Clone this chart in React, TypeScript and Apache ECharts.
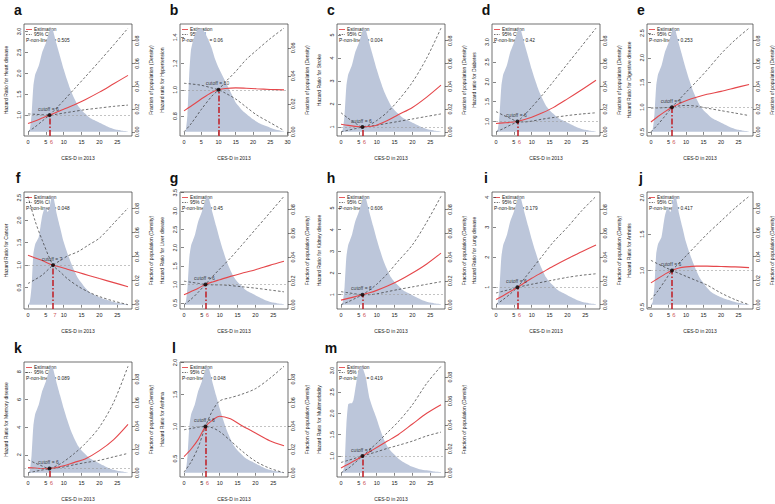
import React, { useEffect, useRef } from "react";
import * as echarts from "echarts";

const FONT = "'Liberation Sans', Arial, Helvetica, sans-serif";
const RED = "#e5474b";
const DARKRED = "#c0262d";
const DENS_COLOR = "#bcc6da";

// ---------- layout (positions only) ----------
const COL_LEFT = [24, 180, 337, 492, 647];
const ROW_TOP = [24, 192, 362];
const ROW_HEIGHT = [112, 117, 115];
const BOX_WIDTH = 108;

// ---------- data ----------
const X_TICKS = [0, 5, 10, 15, 20, 25];
const X_TICKS_B = [0, 5, 10, 15, 20, 25, 30];
const DENS_TICKS = [0, 0.02, 0.04, 0.06, 0.08];

const DENS_X = [0, 0.5, 1, 1.5, 2, 2.5, 3, 3.5, 4, 4.5, 5, 5.5, 6, 6.5, 7, 7.5, 8, 9, 10, 11, 12, 13, 14, 15, 16, 17, 18, 19, 20, 21, 22, 23, 24, 25, 26, 27, 28];
const DENS_MAIN = [0, 0.002, 0.015, 0.04, 0.05, 0.054, 0.058, 0.064, 0.07, 0.074, 0.078, 0.083, 0.088, 0.091, 0.089, 0.083, 0.077, 0.066, 0.055, 0.045, 0.036, 0.029, 0.023, 0.019, 0.016, 0.013, 0.011, 0.0095, 0.008, 0.0065, 0.005, 0.0035, 0.0025, 0.0018, 0.0012, 0.0007, 0.0003];
const DENS_DIP = [0, 0.002, 0.015, 0.042, 0.05, 0.053, 0.056, 0.065, 0.074, 0.079, 0.081, 0.077, 0.08, 0.088, 0.09, 0.084, 0.076, 0.064, 0.052, 0.043, 0.035, 0.028, 0.022, 0.018, 0.014, 0.011, 0.009, 0.0075, 0.0062, 0.005, 0.004, 0.003, 0.0022, 0.0015, 0.001, 0.0006, 0.0003];
const DENS_B_X = [0, 0.5, 1, 1.5, 2, 2.5, 3, 4, 5, 6, 7, 8, 9, 10, 11, 12, 13, 14, 15, 16, 17, 18, 19, 20, 22, 24, 26, 28, 29];
const DENS_B = [0, 0.001, 0.012, 0.04, 0.058, 0.064, 0.068, 0.073, 0.074, 0.071, 0.066, 0.06, 0.052, 0.046, 0.041, 0.036, 0.031, 0.026, 0.021, 0.018, 0.015, 0.013, 0.011, 0.009, 0.006, 0.004, 0.002, 0.0008, 0.0003];
const DENS_M_X = [0, 0.5, 1, 1.5, 2, 2.5, 3, 3.5, 4, 4.5, 5, 5.5, 6, 6.5, 7, 7.5, 8, 9, 10, 11, 12, 13, 14, 15, 16, 18, 20, 22, 24, 26, 28];
const DENS_M = [0, 0.001, 0.006, 0.04, 0.057, 0.058, 0.058, 0.061, 0.07, 0.079, 0.086, 0.089, 0.088, 0.084, 0.079, 0.07, 0.062, 0.053, 0.045, 0.036, 0.028, 0.022, 0.018, 0.015, 0.012, 0.008, 0.005, 0.003, 0.002, 0.001, 0.0005];

const X6 = [0, 2, 4, 6, 8, 10, 13, 16, 20, 24, 28];
const X_B = [0, 2, 5, 8, 10, 12, 15, 18, 21, 25, 29];
const X_F = [0, 2, 4, 7, 9, 11, 14, 17, 20, 24, 28];

const A_EST = [0.8, 0.86, 0.93, 1.0, 1.07, 1.14, 1.25, 1.37, 1.55, 1.75, 1.95];
const A_CI1 = [0.6, 0.72, 0.86, 1.0, 1.17, 1.35, 1.63, 1.91, 2.29, 2.68, 3.08];
const A_CI2 = [1.03, 1.02, 1.01, 1.0, 1.02, 1.05, 1.09, 1.13, 1.17, 1.21, 1.24];

const B_EST = [0.84, 0.875, 0.93, 0.98, 1.0, 1.01, 1.015, 1.012, 1.008, 1.003, 1.0];
const B_CI1 = [0.68, 0.74, 0.85, 0.95, 1.0, 1.06, 1.14, 1.23, 1.3, 1.39, 1.47];
const B_CI2 = [1.05, 1.045, 1.035, 1.015, 1.0, 0.975, 0.93, 0.87, 0.81, 0.75, 0.69];

const C_EST = [1.12, 1.07, 1.03, 1.0, 1.02, 1.08, 1.28, 1.53, 1.85, 2.3, 2.82];
const C_CI1 = [0.79, 0.86, 0.93, 1.0, 1.04, 1.08, 1.16, 1.24, 1.35, 1.46, 1.57];
const C_CI2 = [1.62, 1.38, 1.17, 1.0, 1.1, 1.28, 1.65, 2.15, 2.95, 4.0, 5.3];

const D_EST = [0.95, 0.965, 0.98, 1.0, 1.05, 1.11, 1.22, 1.35, 1.57, 1.8, 2.04];
const D_CI1 = [0.74, 0.82, 0.91, 1.0, 1.17, 1.36, 1.67, 2.0, 2.45, 2.9, 3.35];
const D_CI2 = [1.25, 1.16, 1.08, 1.0, 0.99, 1.01, 1.06, 1.1, 1.15, 1.19, 1.22];

const E_EST = [0.7, 0.81, 0.91, 1.0, 1.07, 1.13, 1.2, 1.26, 1.32, 1.39, 1.46];
const E_CI1 = [0.5, 0.65, 0.82, 1.0, 1.15, 1.3, 1.52, 1.75, 2.08, 2.36, 2.6];
const E_CI2 = [0.98, 0.985, 0.99, 1.0, 1.025, 1.035, 1.02, 0.98, 0.93, 0.88, 0.83];

const F_EST = [1.22, 1.16, 1.1, 1.0, 0.96, 0.91, 0.84, 0.77, 0.7, 0.61, 0.52];
const F_CI1 = [2.53, 1.98, 1.55, 1.0, 0.85, 0.7, 0.53, 0.4, 0.3, 0.2, 0.12];
const F_CI2 = [0.59, 0.68, 0.78, 1.0, 1.1, 1.2, 1.3, 1.45, 1.6, 1.93, 2.27];

const G_EST = [0.72, 0.81, 0.9, 1.0, 1.07, 1.13, 1.22, 1.3, 1.4, 1.52, 1.63];
const G_CI1 = [0.45, 0.6, 0.79, 1.0, 1.22, 1.42, 1.72, 2.05, 2.5, 2.95, 3.4];
const G_CI2 = [1.09, 1.06, 1.03, 1.0, 0.99, 0.99, 0.97, 0.94, 0.9, 0.85, 0.8];

const H_EST = [0.75, 0.83, 0.91, 1.0, 1.09, 1.2, 1.4, 1.63, 2.0, 2.42, 2.92];
const H_CI1 = [0.54, 0.67, 0.83, 1.0, 1.22, 1.48, 1.97, 2.55, 3.3, 4.35, 5.54];
const H_CI2 = [1.14, 1.09, 1.04, 1.0, 1.0, 1.04, 1.14, 1.24, 1.36, 1.48, 1.6];

const I_EST = [0.59, 0.72, 0.86, 1.0, 1.15, 1.3, 1.5, 1.7, 1.95, 2.18, 2.41];
const I_CI1 = [0.42, 0.59, 0.78, 1.0, 1.3, 1.6, 2.05, 2.5, 3.0, 3.55, 4.03];
const I_CI2 = [0.81, 0.87, 0.93, 1.0, 1.05, 1.1, 1.17, 1.24, 1.33, 1.4, 1.45];

const J_EST = [0.83, 0.89, 0.95, 1.0, 1.035, 1.05, 1.06, 1.06, 1.055, 1.05, 1.04];
const J_CI1 = [0.6, 0.72, 0.86, 1.0, 1.1, 1.2, 1.35, 1.5, 1.68, 1.86, 2.02];
const J_CI2 = [1.14, 1.09, 1.045, 1.0, 0.96, 0.92, 0.86, 0.8, 0.69, 0.6, 0.53];

const K_EST = [1.07, 1.04, 1.01, 1.0, 1.08, 1.2, 1.45, 1.7, 2.3, 3.1, 4.2];
const K_CI1 = [0.7, 0.8, 0.9, 1.0, 1.2, 1.5, 2.1, 2.8, 4.0, 5.8, 8.4];
const K_CI2 = [1.64, 1.4, 1.18, 1.0, 1.05, 1.12, 1.28, 1.43, 1.6, 1.85, 2.1];

const L_EST = [0.53, 0.65, 0.8, 1.0, 1.1, 1.16, 1.12, 1.02, 0.9, 0.78, 0.7];
const L_CI1 = [0.29, 0.45, 0.68, 1.0, 1.25, 1.4, 1.45, 1.5, 1.59, 1.75, 1.94];
const L_CI2 = [0.95, 0.97, 0.99, 1.0, 0.98, 0.92, 0.78, 0.63, 0.46, 0.35, 0.28];

const M_EST = [0.72, 0.81, 0.9, 1.0, 1.1, 1.2, 1.35, 1.5, 1.75, 2.0, 2.2];
const M_CI1 = [0.61, 0.71, 0.85, 1.0, 1.15, 1.3, 1.55, 1.8, 2.2, 2.7, 3.1];
const M_CI2 = [0.85, 0.9, 0.95, 1.0, 1.05, 1.1, 1.18, 1.25, 1.35, 1.47, 1.56];

const LETTERS = ["a", "b", "c", "d", "e", "f", "g", "h", "i", "j", "k", "l", "m"];
const Y_NAMES = [
  "Hazard Ratio for Heart disease",
  "Hazard ratio for Hypertension",
  "Hazard Ratio for Stroke",
  "Hazard ratio for Diabetes",
  "Hazard Ratio for Digestive disease",
  "Hazard Ratio for Cancer",
  "Hazard Ratio for Liver disease",
  "Hazard Ratio for Kidney disease",
  "Hazard Ratio for Lung disease",
  "Hazard Ratio for Arthritis",
  "Hazard Ratio for Memory disease",
  "Hazard Ratio for Asthma",
  "Hazard Ratio for Multimorbidity",
];
const P_VALUES = ["0.505", "0.06", "0.004", "0.42", "0.253", "0.048", "0.45", "0.606", "0.179", "0.417", "0.089", "0.048", "0.419"];
const CUTOFFS = [6, 10, 6, 6, 6, 7, 6, 6, 6, 6, 6, 6, 6];
const Y_TICKS = [
  [1, 1.5, 2, 2.5, 3],
  [0.8, 1.0, 1.2, 1.4],
  [1, 2, 3, 4, 5],
  [1, 1.5, 2, 2.5, 3],
  [0.5, 1, 1.5, 2, 2.5],
  [0.5, 1, 1.5, 2, 2.5],
  [0.5, 1, 1.5, 2, 2.5, 3, 3.5],
  [1, 2, 3, 4, 5],
  [1, 2, 3, 4],
  [0.5, 1, 1.5, 2],
  [2, 4, 6, 8],
  [0.5, 1, 1.5, 2],
  [1, 1.5, 2, 2.5, 3],
];
const Y_DIGITS = [1, 1, 0, 1, 1, 1, 1, 0, 0, 1, 0, 1, 1];

const PANEL_X = [X6, X_B, X6, X6, X6, X_F, X6, X6, X6, X6, X6, X6, X6];
const PANEL_EST = [A_EST, B_EST, C_EST, D_EST, E_EST, F_EST, G_EST, H_EST, I_EST, J_EST, K_EST, L_EST, M_EST];
const PANEL_CI1 = [A_CI1, B_CI1, C_CI1, D_CI1, E_CI1, F_CI1, G_CI1, H_CI1, I_CI1, J_CI1, K_CI1, L_CI1, M_CI1];
const PANEL_CI2 = [A_CI2, B_CI2, C_CI2, D_CI2, E_CI2, F_CI2, G_CI2, H_CI2, I_CI2, J_CI2, K_CI2, L_CI2, M_CI2];
const PANEL_DX = [DENS_X, DENS_B_X, DENS_X, DENS_X, DENS_X, DENS_X, DENS_X, DENS_X, DENS_X, DENS_X, DENS_X, DENS_X, DENS_M_X];
const PANEL_DY = [DENS_MAIN, DENS_B, DENS_MAIN, DENS_MAIN, DENS_MAIN, DENS_DIP, DENS_MAIN, DENS_MAIN, DENS_MAIN, DENS_DIP, DENS_MAIN, DENS_MAIN, DENS_M];
const PANEL_XTICKS = [X_TICKS, X_TICKS_B, X_TICKS, X_TICKS, X_TICKS, X_TICKS, X_TICKS, X_TICKS, X_TICKS, X_TICKS, X_TICKS, X_TICKS, X_TICKS];

const zip = (a: number[], b: number[]) => a.map((v, i) => [v, b[i]]);

function buildOption() {
  const grid: any[] = [];
  const xAxis: any[] = [];
  const yAxis: any[] = [];
  const series: any[] = [];
  const graphic: any[] = [];

  LETTERS.forEach((letter, i) => {
    const row = Math.floor(i / 5);
    const col = i % 5;
    const left = COL_LEFT[col];
    const top = ROW_TOP[row];
    const height = ROW_HEIGHT[row];
    const xs = PANEL_X[i];
    const est = PANEL_EST[i];
    const ci1 = PANEL_CI1[i];
    const ci2 = PANEL_CI2[i];
    const dx = PANEL_DX[i];
    const dy = PANEL_DY[i];
    const cut = CUTOFFS[i];

    const xMaxData = Math.max(...xs, ...dx);
    const xMin = -0.04 * xMaxData;
    const xMax = xMaxData * 1.04;
    const allY = [...est, ...ci1, ...ci2];
    const yLo = Math.min(...allY);
    const yHi = Math.max(...allY);
    const yR = yHi - yLo;
    const yMin = yLo - 0.04 * yR;
    const yMax = yHi + 0.04 * yR;
    const dHi = Math.max(...dy);
    const dMin = -0.04 * dHi;
    const dMax = dHi * 1.04;
    const yTicks = Y_TICKS[i].filter((v) => v >= yMin && v <= yMax);
    const dTicks = DENS_TICKS.filter((v) => v >= dMin && v <= dMax + 1e-9);
    const dig = Y_DIGITS[i];

    grid.push({ left, top, width: BOX_WIDTH, height, show: true, borderColor: "#333", borderWidth: 0.7, backgroundColor: "transparent" });

    const tickLine = { color: "#333", width: 0.6 };
    const labelBase = { fontSize: 5.5, color: "#222", fontFamily: FONT };
    const nameBase = { fontSize: 5, color: "#222", fontFamily: FONT };

    xAxis.push({
      type: "value",
      gridIndex: i,
      min: xMin,
      max: xMax,
      axisLine: { show: false },
      splitLine: { show: false },
      axisTick: { show: true, length: 3, customValues: PANEL_XTICKS[i], lineStyle: tickLine },
      axisLabel: { ...labelBase, customValues: PANEL_XTICKS[i], margin: 3 },
      name: "CES-D in 2013",
      nameLocation: "middle",
      nameGap: 19,
      nameTextStyle: nameBase,
    });
    yAxis.push({
      type: "value",
      gridIndex: i,
      position: "left",
      min: yMin,
      max: yMax,
      axisLine: { show: false },
      splitLine: { show: false },
      axisTick: { show: true, length: 3, customValues: yTicks, lineStyle: tickLine },
      axisLabel: { ...labelBase, customValues: yTicks, rotate: 90, margin: 2, formatter: (v: number) => v.toFixed(dig) },
      name: Y_NAMES[i],
      nameLocation: "middle",
      nameRotate: 90,
      nameGap: 16,
      nameTextStyle: nameBase,
    });
    yAxis.push({
      type: "value",
      gridIndex: i,
      position: "right",
      min: dMin,
      max: dMax,
      axisLine: { show: false },
      splitLine: { show: false },
      axisTick: { show: true, length: 3, customValues: dTicks, lineStyle: tickLine },
      axisLabel: { ...labelBase, customValues: dTicks, rotate: 90, margin: 2, formatter: (v: number) => v.toFixed(2) },
      name: "Fraction of population (Density)",
      nameLocation: "middle",
      nameRotate: 90,
      nameGap: 16,
      nameTextStyle: nameBase,
    });

    const yIdx = 2 * i;
    const dIdx = 2 * i + 1;

    series.push({
      type: "line",
      xAxisIndex: i,
      yAxisIndex: dIdx,
      data: zip(dx, dy),
      symbol: "none",
      smooth: 0.2,
      lineStyle: { width: 0 },
      areaStyle: { color: DENS_COLOR, opacity: 1 },
      silent: true,
      z: 1,
    });
    series.push({
      type: "line",
      xAxisIndex: i,
      yAxisIndex: yIdx,
      data: zip(xs, ci1),
      symbol: "none",
      smooth: 0.3,
      lineStyle: { color: "#333", width: 0.7, type: [2.5, 2] },
      silent: true,
      z: 2,
      markLine: {
        silent: true,
        symbol: ["none", "none"],
        label: { show: false },
        lineStyle: { color: "#9a9a9a", type: [2, 2], width: 0.6 },
        data: [{ yAxis: 1 }],
      },
    });
    series.push({
      type: "line",
      xAxisIndex: i,
      yAxisIndex: yIdx,
      data: zip(xs, ci2),
      symbol: "none",
      smooth: 0.3,
      lineStyle: { color: "#333", width: 0.7, type: [2.5, 2] },
      silent: true,
      z: 2,
    });
    series.push({
      type: "line",
      xAxisIndex: i,
      yAxisIndex: yIdx,
      data: zip(xs, est),
      symbol: "none",
      smooth: 0.3,
      lineStyle: { color: RED, width: 1.1 },
      silent: true,
      z: 4,
      markLine: {
        silent: true,
        symbol: ["none", "none"],
        label: { show: false },
        data: [
          [
            { coord: [cut, yMin], lineStyle: { color: DARKRED, width: 1.6, type: [6, 2, 1.5, 2] } },
            { coord: [cut, 1] },
          ],
        ],
      },
    });
    series.push({
      type: "scatter",
      xAxisIndex: i,
      yAxisIndex: yIdx,
      data: [[cut, 1]],
      symbolSize: 4,
      itemStyle: { color: "#000" },
      silent: true,
      z: 6,
      label: { show: true, formatter: `cutoff = ${cut}`, position: "top", distance: 2, offset: [-1, 0], fontSize: 5, color: "#111", fontFamily: FONT },
    });
    if (cut !== 10) {
      series.push({
        type: "scatter",
        xAxisIndex: i,
        yAxisIndex: yIdx,
        data: [[cut, yMin]],
        symbolSize: 0,
        clip: false,
        silent: true,
        z: 6,
        label: { show: true, formatter: String(cut), position: "bottom", distance: 3, offset: [2, 0], fontSize: 6, color: DARKRED, fontFamily: FONT },
      });
    }

    // legend inside the plot box
    const lx = left + 2;
    const ly1 = top + 5.5;
    const ly2 = top + 10.5;
    const ly3 = top + 16.5;
    graphic.push(
      { type: "line", shape: { x1: lx, y1: ly1, x2: lx + 6, y2: ly1 }, style: { stroke: RED, lineWidth: 0.9 }, silent: true },
      { type: "text", x: lx + 8, y: ly1, style: { text: "Estimation", fontSize: 4.8, fill: "#222", fontFamily: FONT, textVerticalAlign: "middle" }, silent: true },
      { type: "line", shape: { x1: lx, y1: ly2, x2: lx + 6, y2: ly2 }, style: { stroke: "#333", lineWidth: 0.7, lineDash: [1.5, 1.2] }, silent: true },
      { type: "text", x: lx + 8, y: ly2, style: { text: "95% CI", fontSize: 4.8, fill: "#222", fontFamily: FONT, textVerticalAlign: "middle" }, silent: true },
      { type: "text", x: lx, y: ly3, style: { text: `P-non-linear = ${P_VALUES[i]}`, fontSize: 4.8, fill: "#222", fontFamily: FONT, textVerticalAlign: "middle" }, silent: true },
      { type: "text", x: left - 6, y: top - 14, style: { text: letter, fontSize: 14, fontWeight: "bold", fill: "#111", fontFamily: FONT, textAlign: "center", textVerticalAlign: "middle" }, silent: true }
    );
  });

  return { animation: false, backgroundColor: "#ffffff", grid, xAxis, yAxis, series, graphic };
}

export default function App() {
  const ref = useRef<HTMLDivElement>(null);
  useEffect(() => {
    if (!ref.current) return;
    const chart = echarts.init(ref.current, undefined, { renderer: "svg" });
    chart.setOption(buildOption());
    return () => chart.dispose();
  }, []);
  return <div ref={ref} style={{ position: "absolute", left: 0, top: 0, width: 775, height: 504, background: "#fff" }} />;
}
